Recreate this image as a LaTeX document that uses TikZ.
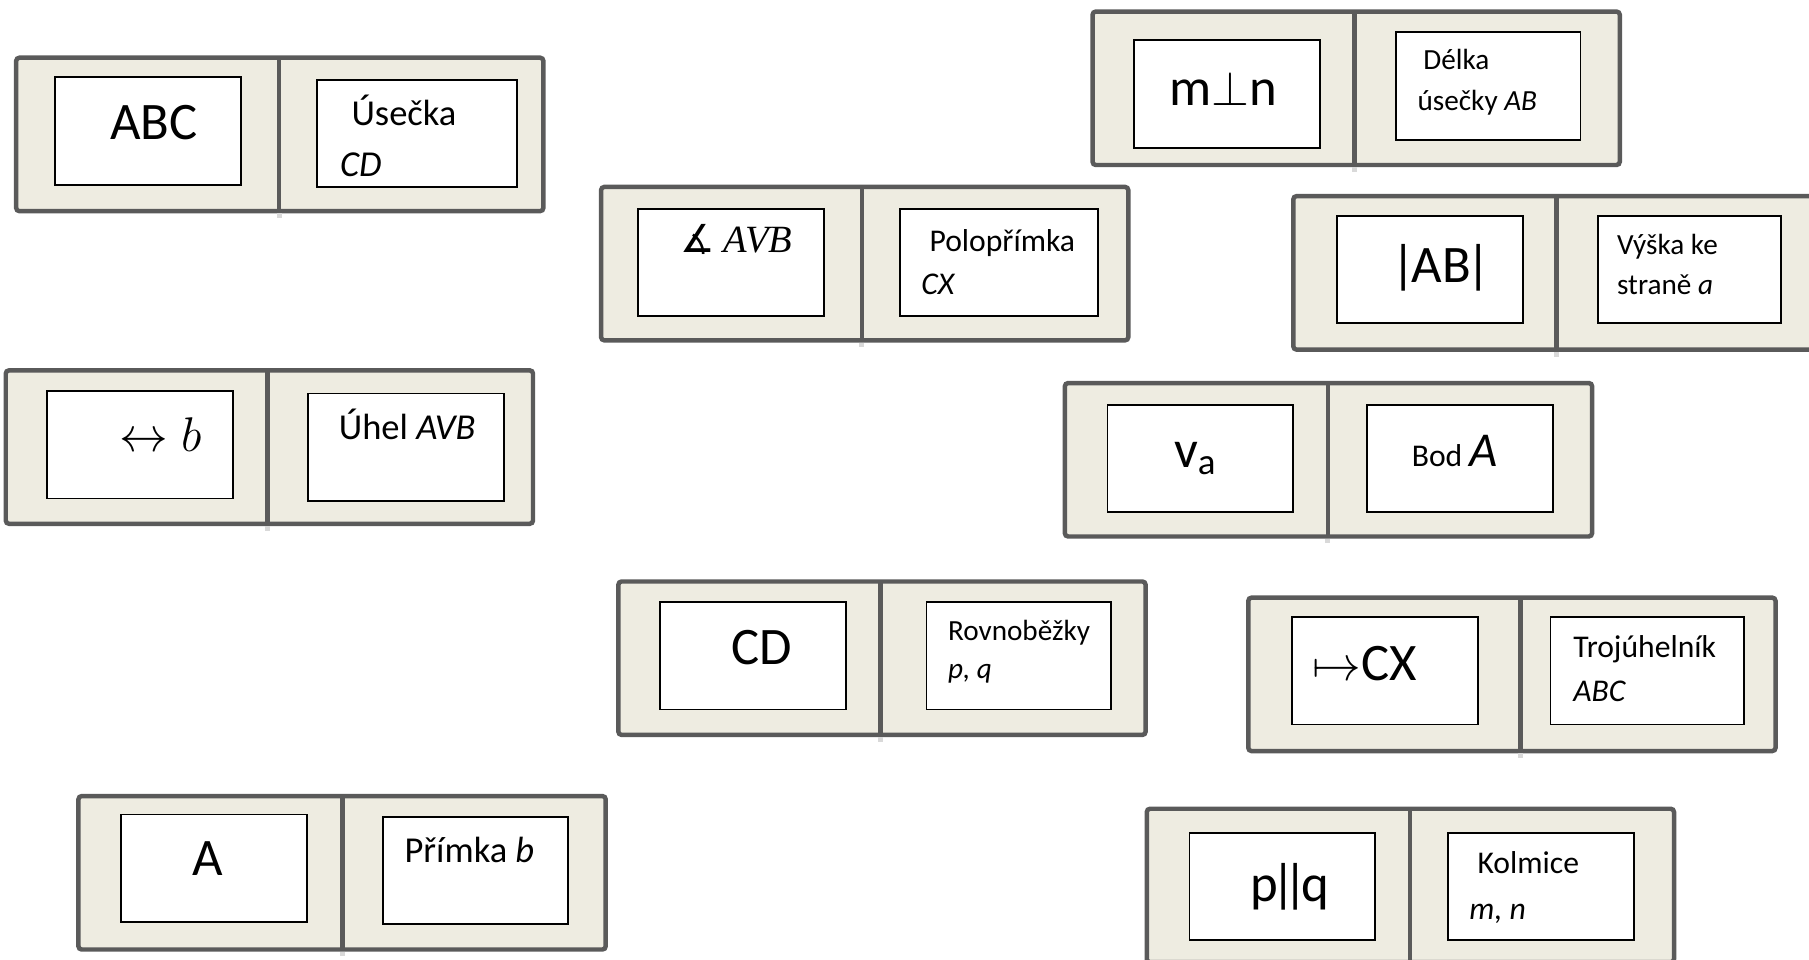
\documentclass[tikz,border=0pt]{standalone}
\usepackage{fontspec}
\usepackage{amssymb}
\setmainfont{Carlito}
\newfontfamily\symbolfont{DejaVu Sans}
\newfontfamily\mathlikefont{Liberation Serif}
\newcommand{\tightbar}{\kern-0.12em|\kern-0.12em}
\definecolor{cardfill}{HTML}{EEECE1}
\definecolor{cardline}{HTML}{5A5A5A}
\tikzset{
  card/.style={draw=cardline, fill=cardfill, line width=1.1pt, rounded corners=0.8pt},
  divider/.style={draw=cardline, line width=1.1pt},
  field/.style={draw=black, fill=white, line width=0.45pt},
  txt/.style={anchor=base west, inner sep=0pt},
  bigsym/.style={font=\fontsize{13}{15}\selectfont},
  angsym/.style={font=\fontsize{9.5}{11}\selectfont},
  termL/.style={font=\fontsize{9}{11}\selectfont},
  termM/.style={font=\fontsize{7.8}{9}\selectfont},
  termS/.style={font=\fontsize{7.2}{9}\selectfont}
}
\begin{document}
\begin{tikzpicture}[x=0.01cm, y=-0.01cm]
      \useasboundingbox (0,0) rectangle (1568,832);
      \clip (0,0) rectangle (1568,832);
      % x / y / divider / left field x,y / right field x,y,width
      \foreach \x/\y/\d/\lx/\ly/\rx/\ry/\rw in {14/50/228/34/17/261/19/173,
          947/10/227/36/25/263/18/160, 521/162/226/32/19/259/19/172,
          1121/170/228/38/17/264/17/159, 5/321/227/36/18/262/20/170,
          923/332/228/37/19/262/19/161, 536/504/227/36/18/267/18/160,
          1082/518/236/38/17/262/17/168, 68/690/229/37/16/264/18/160,
          994/701/228/37/21/261/21/161}{
        \draw [card] (\x,\y) rectangle ++(457,133);
        \draw [divider] (\x+\d,\y) -- ++(0,133);
        \draw [gray!30, line width=1.2pt] (\x+\d,\y+135) -- ++(0,4);
        \draw [field] (\x+\lx,\y+\ly) rectangle ++(161,93);
        \draw [field] (\x+\rx,\y+\ry) rectangle ++(\rw,93);
      }
      \node [txt, bigsym] (trojuhelnikABC) at (95,121) {ABC};
      \node [txt, termL] (usecka) at (304,109) {Úsečka};
      \node [txt, termL] (useckaCD) at (294,153) {\textit{CD}};
      \node [txt, bigsym] (kolmost) at (1013,91) {m$\perp$n};
      \node [txt, termS] (delka) at (1233,60) {Délka};
      \node [txt, termS] (delkaAB) at (1228,96) {úsečky \textit{AB}};
      \node [txt, angsym] (uhelAVB) at (589,219) {{\symbolfont ∡} {\mathlikefont\itshape AVB}};
      \node [txt, termM] (poloprimka) at (805,218) {Polopřímka};
      \node [txt, termM] (poloprimkaCX) at (798,255) {\textit{CX}};
      \node [txt, bigsym] (vzdalenost) at (1208,245) {\kern-0.05em|\kern-0.08em AB\kern-0.08em|};
      \node [txt, termS] (vyska) at (1401,221) {Výška ke};
      \node [txt, termS] (vyskaA) at (1401,255) {straně \textit{a}};
      \node [txt, bigsym] (primkab) at (103,391) {$\leftrightarrow b$};
      \node [txt, termL] (uhel) at (293,381) {Úhel \textit{AVB}};
      \node [txt, bigsym] (vyskava) at (1017,405) {v\textsubscript{a}};
      \node [txt, termM] (bod) at (1223,404) {Bod {\fontsize{12}{12}\selectfont\textit{A}}};
      \node [txt, bigsym] (useckaCDsym) at (633,576) {CD};
      \node [txt, termS] (rovnobezky) at (821,555) {Rovnoběžky};
      \node [txt, termS] (rovnobezkypq) at (821,588) {\textit{p, q}};
      \node [txt, bigsym] (poloprimkasym) at (1137,590) {$\mapsto$CX};
      \node [txt, termM] (trojuhelnik) at (1363,570) {Trojúhelník};
      \node [txt, termM] (trojuhelnikABCtxt) at (1363,608) {\textit{ABC}};
      \node [txt, bigsym] (bodA) at (166,759) {A};
      \node [txt, termL] (primka) at (350,748) {Přímka \textit{b}};
      \node [txt, bigsym] (rovnobeznost) at (1083,781) {p\tightbar\tightbar q};
      \node [txt, termM] (kolmice) at (1280,757) {Kolmice};
      \node [txt, termM] (kolmicemn) at (1273,797) {\textit{m, n}};
    \end{tikzpicture}
\end{document}
